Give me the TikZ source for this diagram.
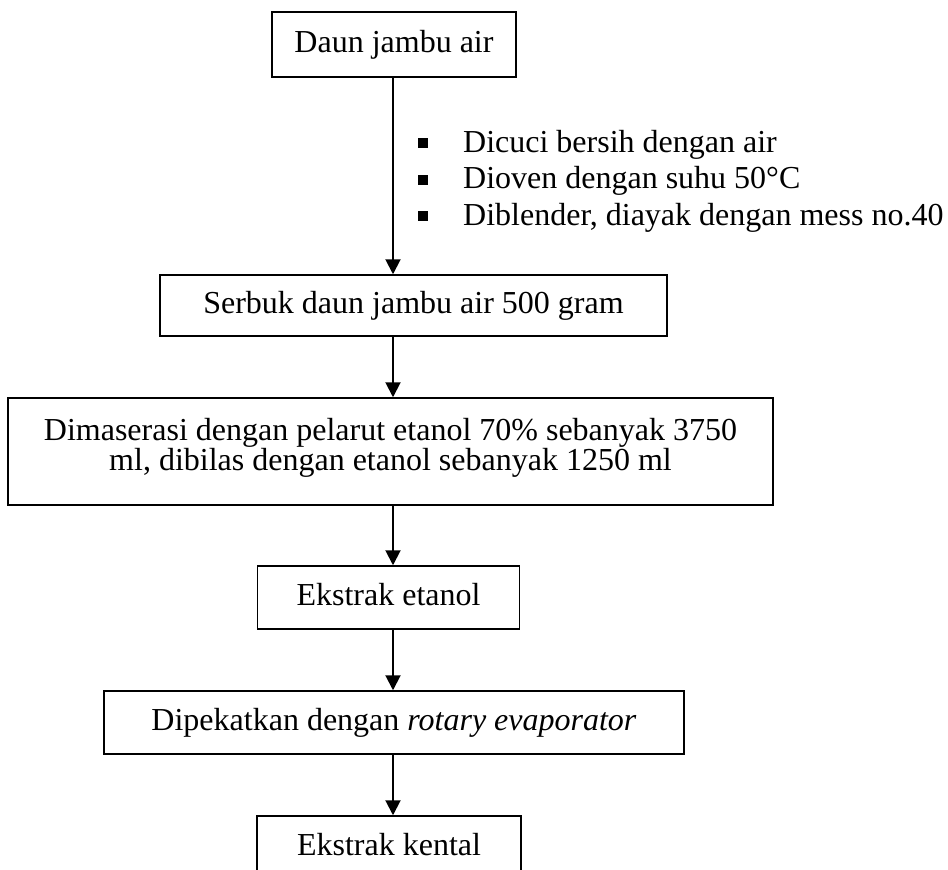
\documentclass[tikz,border=0pt]{standalone}
\usepackage{fontspec}
\setmainfont{Liberation Serif}
\usetikzlibrary{arrows.meta}
\tikzset{
  txt/.style={font=\fontsize{32}{29.5}\selectfont},
  stepbox/.style={txt, draw, line width=1.5pt, rectangle, inner sep=0pt, align=center, text height=22pt, text depth=7pt},
  arr/.style={line width=2pt, -{Triangle[length=15pt,width=15pt]}},
  bul/.style={txt, inner sep=0pt, anchor=base west}
}
\newcommand{\sqbul}{\makebox[45pt][l]{\raisebox{4pt}{\rule{10pt}{10pt}}}}
\begin{document}
\begin{tikzpicture}[x=1pt,y=-1pt]
\clip (0,0) rectangle (948,870);
\fill[white] (0,0) rectangle (948,870);
\node[stepbox, minimum width=244pt, minimum height=65pt] (b1) at (394,44.5) {Daun jambu air};
\node[stepbox, minimum width=507pt, minimum height=61pt] (b2) at (413.5,305.5) {Serbuk daun jambu air 500 gram};
\node[draw, line width=1.5pt, rectangle, inner sep=0pt, minimum width=765pt, minimum height=107pt] (b3) at (390.5,451.5) {};
\node[txt, inner sep=0pt, anchor=base] (t3a) at (390.5,440) {Dimaserasi dengan pelarut etanol 70\%\ sebanyak 3750};
\node[txt, inner sep=0pt, anchor=base] (t3b) at (390.5,470) {ml, dibilas dengan etanol sebanyak 1250 ml};
\node[stepbox, minimum width=262pt, minimum height=63pt] (b4) at (388.5,597.5) {Ekstrak etanol};
\node[stepbox, minimum width=580pt, minimum height=63pt] (b5) at (394,722.5) {Dipekatkan dengan \textit{rotary evaporator}};
\node[stepbox, minimum width=264pt, minimum height=63pt] (b6) at (389,847.5) {Ekstrak kental};
\node[bul] (l1) at (418,152) {\sqbul Dicuci bersih dengan air};
\node[bul] (l2) at (418,188.5) {\sqbul Dioven dengan suhu 50°C};
\node[bul] (l3) at (418,225) {\sqbul Diblender, diayak dengan mess no.40};
\coordinate (ax) at (393,0);
\draw[arr] (b1.south -| ax) -- (b2.north -| ax);
\draw[arr] (b2.south -| ax) -- (b3.north -| ax);
\draw[arr] (b3.south -| ax) -- (b4.north -| ax);
\draw[arr] (b4.south -| ax) -- (b5.north -| ax);
\draw[arr] (b5.south -| ax) -- (b6.north -| ax);
\end{tikzpicture}
\end{document}
